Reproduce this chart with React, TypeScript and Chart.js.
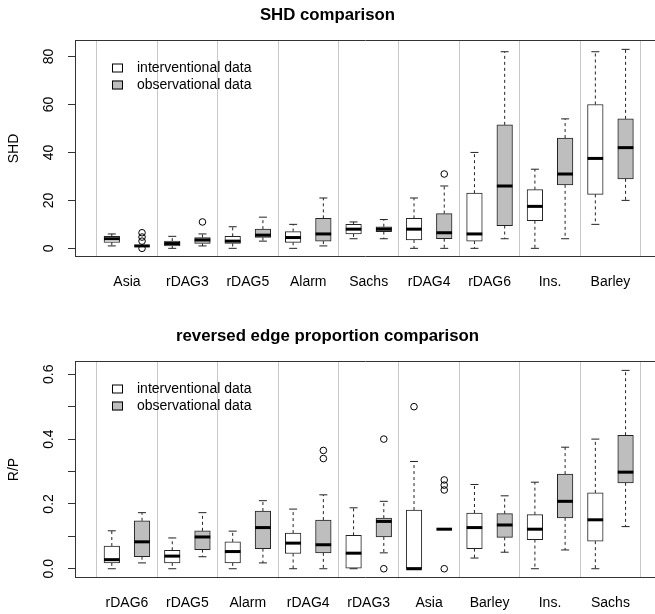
import React, { useEffect, useRef } from 'react';
import { Chart, registerables } from 'chart.js';

Chart.register(...registerables);

const FONT = '"Liberation Sans", Arial, Helvetica, sans-serif';
Chart.defaults.font.family = FONT;
Chart.defaults.color = '#000';

// ---------- shared ----------
const legendLabels = ['interventional data', 'observational data'];
const legendFills = ['#FFFFFF', '#BEBEBE'];

// ---------- panel 1: SHD ----------
const shdTitle = 'SHD comparison';
const shdYLabel = 'SHD';
const shdCategories = ['Asia', 'rDAG3', 'rDAG5', 'Alarm', 'Sachs', 'rDAG4', 'rDAG6', 'Ins.', 'Barley'];
const shdTicks = [0, 20, 40, 60, 80];
const shdTickLabels = ['0', '20', '40', '60', '80'];
const shdIntLo = [1, 0, 0, 0, 4, 0, 0, 0, 10];
const shdIntQ1 = [2.5, 1, 2, 2.5, 6, 3.5, 3, 11.5, 22.5];
const shdIntMed = [4, 2, 3, 4.5, 8, 8, 6, 17.5, 37.5];
const shdIntQ3 = [5, 3, 5, 7, 10, 12.5, 23, 24.5, 60];
const shdIntHi = [6, 5, 9, 10, 11, 21, 40, 33, 82];
const shdIntOut = [[], [], [], [], [], [], [], [], []];
const shdObsLo = [1, 1, 3, 1, 4, 0, 4, 4, 20];
const shdObsQ1 = [1, 2, 4.5, 3, 7, 4, 9.5, 26.5, 29];
const shdObsMed = [1, 3.5, 5.5, 6, 8, 6.5, 26, 31, 42];
const shdObsQ3 = [1, 4.5, 8, 12.5, 9, 14.5, 51.5, 46, 54];
const shdObsHi = [1, 6, 13, 21, 12, 26, 82, 54, 83];
const shdObsOut = [[0, 3, 4.7, 6.5], [11], [], [], [], [31], [], [], []];

// ---------- panel 2: reversed edge proportion ----------
const rpTitle = 'reversed edge proportion comparison';
const rpYLabel = 'R/P';
const rpCategories = ['rDAG6', 'rDAG5', 'Alarm', 'rDAG4', 'rDAG3', 'Asia', 'Barley', 'Ins.', 'Sachs'];
const rpTicks = [0, 0.1, 0.2, 0.3, 0.4, 0.5, 0.6];
const rpTickLabels = ['0.0', '', '0.2', '', '0.4', '', '0.6'];
const rpIntLo = [0, 0, 0, 0, 0, 0, 0.033, 0, 0];
const rpIntQ1 = [0.018, 0.018, 0.018, 0.047, 0, 0, 0.062, 0.09, 0.085];
const rpIntMed = [0.028, 0.039, 0.053, 0.079, 0.048, 0, 0.127, 0.122, 0.151];
const rpIntQ3 = [0.07, 0.057, 0.083, 0.11, 0.103, 0.181, 0.172, 0.167, 0.234];
const rpIntHi = [0.117, 0.095, 0.116, 0.184, 0.188, 0.331, 0.26, 0.267, 0.4];
const rpIntOut = [[], [], [], [], [], [0.5], [], [], []];
const rpObsLo = [0.018, 0.037, 0.018, 0, 0.049, 0.122, 0.051, 0.058, 0.13];
const rpObsQ1 = [0.037, 0.059, 0.062, 0.049, 0.098, 0.122, 0.097, 0.157, 0.265];
const rpObsMed = [0.083, 0.098, 0.127, 0.074, 0.146, 0.122, 0.135, 0.208, 0.298];
const rpObsQ3 = [0.148, 0.117, 0.178, 0.15, 0.156, 0.122, 0.17, 0.292, 0.412];
const rpObsHi = [0.173, 0.173, 0.21, 0.228, 0.208, 0.122, 0.225, 0.375, 0.612];
const rpObsOut = [[], [], [], [0.34, 0.365], [0, 0.4], [0, 0.243, 0.258, 0.274], [], [], []];

// ---------- styling ----------
const CANVAS_W = 655;
const CANVAS_H = 293;
const X_MIN = 0.141;
const X_MAX = 9.737;
const BOX_OFFSET = 0.25;
const BOX_PX = 15.6;
const FRAME = '#333';
const SEP = '#C8C8C8';
const INK = '#222';

const legendPlugin = {
  id: 'boxLegend',
  afterDraw(chart: any) {
    const { ctx, chartArea } = chart;
    ctx.save();
    ctx.font = `14px ${FONT}`;
    ctx.textBaseline = 'middle';
    ctx.textAlign = 'left';
    legendLabels.forEach((label, i) => {
      const y = Math.round(chartArea.top + 26.6 + i * 17.4);
      const x = Math.round(chartArea.left + 37);
      ctx.fillStyle = legendFills[i];
      ctx.fillRect(x, y - 4.5, 11, 9);
      ctx.strokeStyle = '#000';
      ctx.lineWidth = 1;
      ctx.strokeRect(x + 0.5, y - 4, 10, 8);
      ctx.fillStyle = '#000';
      ctx.fillText(label, chartArea.left + 62, y);
    });
    ctx.restore();
  },
};

function buildConfig(p: any) {
  const boxes: any[] = [];
  const boxColors: string[] = [];
  const medians: any[] = [];
  const caps: any[] = [];
  const whiskers: any[] = [];
  const outs: any[] = [];
  const series = [
    { lo: p.intLo, q1: p.intQ1, med: p.intMed, q3: p.intQ3, hi: p.intHi, out: p.intOut, fill: legendFills[0], off: -BOX_OFFSET },
    { lo: p.obsLo, q1: p.obsQ1, med: p.obsMed, q3: p.obsQ3, hi: p.obsHi, out: p.obsOut, fill: legendFills[1], off: BOX_OFFSET },
  ];
  p.categories.forEach((_: string, i: number) => {
    series.forEach((s) => {
      const x = i + 1 + s.off;
      boxes.push({ x, y: [s.q1[i], s.q3[i]] });
      boxColors.push(s.fill);
      medians.push({ x, y: s.med[i] });
      caps.push({ x, y: s.lo[i] }, { x, y: s.hi[i] });
      whiskers.push(
        { x, y: s.q3[i] }, { x, y: s.hi[i] }, { x, y: null },
        { x, y: s.q1[i] }, { x, y: s.lo[i] }, { x, y: null },
      );
      s.out[i].forEach((v: number) => outs.push({ x, y: v }));
    });
  });

  return {
    type: 'bar',
    data: {
      datasets: [
        {
          type: 'scatter', label: 'median', data: medians, xAxisID: 'x', yAxisID: 'y',
          pointStyle: 'line', pointRadius: BOX_PX / 2, pointHoverRadius: BOX_PX / 2,
          pointBorderWidth: 3, pointHoverBorderWidth: 3, pointBorderColor: '#000', borderColor: '#000',
        },
        {
          type: 'scatter', label: 'staples', data: caps, xAxisID: 'x', yAxisID: 'y',
          pointStyle: 'line', pointRadius: 4, pointHoverRadius: 4,
          pointBorderWidth: 1, pointHoverBorderWidth: 1, pointBorderColor: INK, borderColor: INK,
        },
        {
          type: 'scatter', label: 'outliers', data: outs, xAxisID: 'x', yAxisID: 'y',
          pointStyle: 'circle', pointRadius: 3.3, pointHoverRadius: 3.3,
          pointBorderWidth: 1, pointHoverBorderWidth: 1, pointBorderColor: '#000', borderColor: '#000',
          pointBackgroundColor: 'rgba(0,0,0,0)', backgroundColor: 'rgba(0,0,0,0)',
        },
        {
          type: 'bar', label: 'boxes', data: boxes, xAxisID: 'x', yAxisID: 'y',
          backgroundColor: boxColors, borderColor: INK, borderWidth: 1, borderSkipped: false,
          barThickness: BOX_PX, grouped: false,
        },
        {
          type: 'line', label: 'whiskers', data: whiskers, xAxisID: 'x', yAxisID: 'y',
          borderColor: INK, borderWidth: 1, borderDash: [3, 3], pointRadius: 0, pointHoverRadius: 0,
          spanGaps: false, fill: false, tension: 0,
        },
      ],
    },
    options: {
      responsive: false,
      maintainAspectRatio: false,
      animation: false,
      events: [],
      layout: { padding: 0, autoPadding: false },
      plugins: {
        legend: { display: false },
        tooltip: { enabled: false },
        title: {
          display: true, text: p.title, color: '#000',
          font: { size: 16.8, weight: 'bold', family: FONT },
          padding: { top: 5.4, bottom: 15.4 },
        },
      },
      scales: {
        x: {
          type: 'linear', position: 'bottom', min: X_MIN, max: X_MAX, offset: false,
          afterBuildTicks: (s: any) => { s.ticks = p.categories.map((_: string, i: number) => ({ value: i + 1 })); },
          afterFit: (s: any) => { s.height = CANVAS_H - 256; },
          ticks: {
            autoSkip: false, maxRotation: 0, minRotation: 0, padding: 18, color: '#000',
            font: { size: 14, family: FONT },
            callback: (_v: any, i: number) => p.categories[i],
          },
          grid: { display: true, offset: true, drawTicks: false, color: SEP, lineWidth: 1 },
          border: { display: true, color: FRAME, width: 1 },
        },
        xTop: {
          type: 'linear', position: 'top', min: X_MIN, max: X_MAX, offset: false,
          afterFit: (s: any) => { s.height = 0; },
          ticks: { display: false },
          grid: { display: false, drawTicks: false },
          border: { display: true, color: FRAME, width: 1 },
        },
        y: {
          type: 'linear', position: 'left', min: p.yMin, max: p.yMax,
          afterBuildTicks: (s: any) => { s.ticks = p.ticks.map((v: number) => ({ value: v })); },
          afterFit: (s: any) => { s.width = 75; },
          ticks: {
            autoSkip: false, minRotation: 90, maxRotation: 90, crossAlign: 'center',
            padding: p.tickPad, color: '#000', font: { size: 14, family: FONT },
            callback: (_v: any, i: number) => p.tickLabels[i],
          },
          grid: { display: true, drawOnChartArea: false, drawTicks: true, tickLength: 7, tickColor: FRAME, tickWidth: 1, color: FRAME },
          border: { display: true, color: FRAME, width: 1 },
          title: {
            display: true, text: p.yLabel, color: '#000',
            font: { size: 14, family: FONT }, padding: { top: 5.6, bottom: 0 },
          },
        },
      },
    },
    plugins: [legendPlugin],
  };
}

const panels = [
  {
    title: shdTitle, yLabel: shdYLabel, categories: shdCategories, ticks: shdTicks, tickLabels: shdTickLabels,
    yMin: -3.2, yMax: 86.5, tickPad: 11.2,
    intLo: shdIntLo, intQ1: shdIntQ1, intMed: shdIntMed, intQ3: shdIntQ3, intHi: shdIntHi, intOut: shdIntOut,
    obsLo: shdObsLo, obsQ1: shdObsQ1, obsMed: shdObsMed, obsQ3: shdObsQ3, obsHi: shdObsHi, obsOut: shdObsOut,
  },
  {
    title: rpTitle, yLabel: rpYLabel, categories: rpCategories, ticks: rpTicks, tickLabels: rpTickLabels,
    yMin: -0.0255, yMax: 0.638, tickPad: 9.3,
    intLo: rpIntLo, intQ1: rpIntQ1, intMed: rpIntMed, intQ3: rpIntQ3, intHi: rpIntHi, intOut: rpIntOut,
    obsLo: rpObsLo, obsQ1: rpObsQ1, obsMed: rpObsMed, obsQ3: rpObsQ3, obsHi: rpObsHi, obsOut: rpObsOut,
  },
];

function BoxPanel({ spec, top }: { spec: any; top: number }) {
  const ref = useRef<HTMLCanvasElement>(null);
  useEffect(() => {
    if (!ref.current) return;
    const chart = new Chart(ref.current, buildConfig(spec) as any);
    return () => chart.destroy();
  }, [spec]);
  return (
    <canvas
      ref={ref}
      width={CANVAS_W}
      height={CANVAS_H}
      style={{ position: 'absolute', left: 0, top, width: CANVAS_W, height: CANVAS_H, display: 'block' }}
    />
  );
}

export default function App() {
  return (
    <div style={{ position: 'absolute', left: 0, top: 0, width: 655, height: 614, background: '#fff', overflow: 'hidden' }}>
      <BoxPanel spec={panels[0]} top={0} />
      <BoxPanel spec={panels[1]} top={321} />
    </div>
  );
}
